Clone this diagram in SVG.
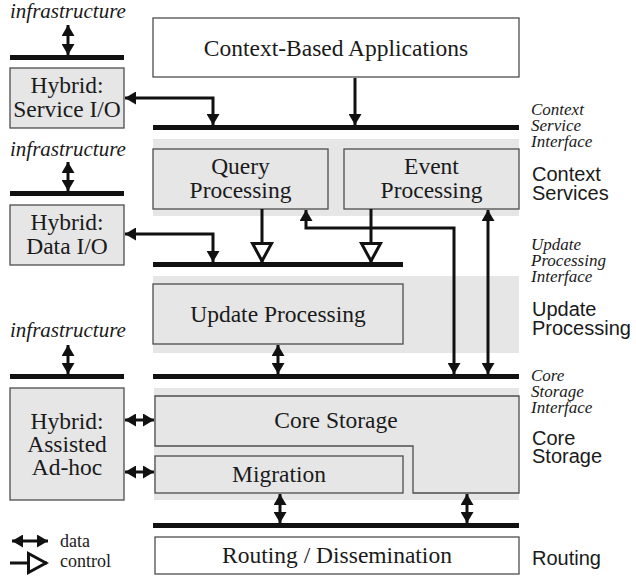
<svg xmlns="http://www.w3.org/2000/svg" width="636" height="577" viewBox="0 0 636 577">
  <style>
    .box { fill: #e6e6e6; stroke: #4d4d4d; stroke-width: 1.3; }
    .wbox { fill: #ffffff; stroke: #4d4d4d; stroke-width: 1.3; }
    .band { fill: #e6e6e6; }
    .bar { fill: #111111; }
    .lbl { font-family: "Liberation Serif", "Times New Roman", serif; font-size: 23.5px; fill: #1a1a1a; text-anchor: middle; }
    .ital { font-family: "Liberation Serif", "Times New Roman", serif; font-size: 17px; font-style: italic; fill: #1a1a1a; }
    .infra { font-family: "Liberation Serif", "Times New Roman", serif; font-size: 21px; font-style: italic; fill: #1a1a1a; }
    .layer { font-family: "Liberation Sans", Arial, sans-serif; font-size: 20px; fill: #1a1a1a; }
    .leg { font-family: "Liberation Serif", "Times New Roman", serif; font-size: 18px; fill: #1a1a1a; }
    .data { fill: none; stroke: #111111; stroke-width: 3; marker-start: url(#ah); marker-end: url(#ah); }
    .one { fill: none; stroke: #111111; stroke-width: 3; marker-end: url(#ah); }
    .ctl { fill: none; stroke: #111111; stroke-width: 3; marker-end: url(#tri); }
  </style>
  <defs>
    <!-- filled head for data flow -->
    <marker id="ah" viewBox="0 0 11 13" refX="11" refY="6.5" markerWidth="11" markerHeight="13" markerUnits="userSpaceOnUse" orient="auto-start-reverse">
      <path d="M0,0 L11,6.5 L0,13 z" fill="#111111"/>
    </marker>
    <!-- hollow head for control flow -->
    <marker id="tri" viewBox="-2 -2 24 26" refX="20" refY="11" markerWidth="24" markerHeight="26" markerUnits="userSpaceOnUse" orient="auto">
      <path d="M1.5,1.5 L19,11 L1.5,20.5 z" fill="#ffffff" stroke="#111111" stroke-width="3" stroke-linejoin="miter"/>
    </marker>
  </defs>

  <!-- layer backgrounds -->
  <g id="bands">
    <rect class="band" x="153" y="139" width="366" height="77"/>
    <rect class="band" x="153" y="276" width="366" height="77"/>
    <rect class="band" x="154" y="388" width="365" height="112"/>
  </g>

  <!-- interface bars -->
  <g id="bars">
    <rect class="bar" x="153" y="125" width="366" height="5"/>
    <rect class="bar" x="10" y="55" width="114" height="5"/>
    <rect class="bar" x="10" y="191" width="114" height="5"/>
    <rect class="bar" x="153" y="262" width="250" height="5"/>
    <rect class="bar" x="153" y="374" width="366" height="5"/>
    <rect class="bar" x="10" y="374" width="114" height="5"/>
    <rect class="bar" x="153" y="523" width="366" height="5"/>
  </g>

  <g id="apps">
    <rect class="wbox" x="153" y="18" width="366" height="59"/>
    <text class="lbl" x="336" y="56">Context-Based Applications</text>
  </g>

  <g id="service-io">
    <rect class="box" x="10" y="68" width="114" height="60"/>
    <text class="lbl" x="67" y="93">Hybrid:<tspan x="67" dy="24">Service I/O</tspan></text>
  </g>

  <g id="query">
    <rect class="box" x="153" y="149" width="175" height="60"/>
    <text class="lbl" x="240.5" y="174">Query<tspan x="240.5" dy="24">Processing</tspan></text>
  </g>

  <g id="event">
    <rect class="box" x="344" y="149" width="175" height="60"/>
    <text class="lbl" x="431.5" y="174">Event<tspan x="431.5" dy="24">Processing</tspan></text>
  </g>

  <g id="data-io">
    <rect class="box" x="10" y="205" width="114" height="60"/>
    <text class="lbl" x="67" y="230">Hybrid:<tspan x="67" dy="24">Data I/O</tspan></text>
  </g>

  <g id="update">
    <rect class="box" x="153" y="284" width="250" height="60"/>
    <text class="lbl" x="278" y="322">Update Processing</text>
  </g>

  <g id="assisted">
    <rect class="box" x="10" y="388" width="114" height="112"/>
    <text class="lbl" x="67" y="429">Hybrid:<tspan x="67" dy="23">Assisted</tspan><tspan x="67" dy="23">Ad-hoc</tspan></text>
  </g>

  <g id="core">
    <path class="box" d="M155,396 H519 V493 H413 V446 H155 Z"/>
    <text class="lbl" x="336" y="428">Core Storage</text>
  </g>

  <g id="migration">
    <rect class="box" x="155" y="456" width="248" height="37"/>
    <text class="lbl" x="279" y="482">Migration</text>
  </g>

  <g id="routing">
    <rect class="wbox" x="155" y="537" width="364" height="37"/>
    <text class="lbl" x="337" y="563">Routing / Dissemination</text>
  </g>

  <!-- infrastructure links -->
  <g id="infrastructure">
    <text class="infra" x="10" y="18">infrastructure</text>
    <text class="infra" x="10" y="156">infrastructure</text>
    <text class="infra" x="10" y="337">infrastructure</text>
  </g>

  <!-- side labels: interfaces (italic) and layers (sans) -->
  <g id="labels">
    <text class="ital" x="531" y="115">Context<tspan x="531" dy="16">Service</tspan><tspan x="531" dy="16">Interface</tspan></text>
    <text class="layer" x="532" y="181">Context<tspan x="532" dy="18.5">Services</tspan></text>
    <text class="ital" x="531" y="250">Update<tspan x="531" dy="16">Processing</tspan><tspan x="531" dy="16">Interface</tspan></text>
    <text class="layer" x="532" y="316">Update<tspan x="532" dy="18.5">Processing</tspan></text>
    <text class="ital" x="531" y="381">Core<tspan x="531" dy="16">Storage</tspan><tspan x="531" dy="16">Interface</tspan></text>
    <text class="layer" x="532" y="445">Core<tspan x="532" dy="18">Storage</tspan></text>
    <text class="layer" x="532" y="565">Routing</text>
  </g>

  <g id="connectors">
    <path class="one" d="M355,78 V125"/>
    <path class="data" d="M125,98 H213 V125"/>
    <path class="data" d="M68,25 V55"/>
    <path class="data" d="M68,162 V191"/>
    <path class="data" d="M68,345 V374"/>
    <path class="ctl" d="M262,209 V262"/>
    <path class="ctl" d="M371,209 V262"/>
    <path class="data" d="M125,234 H213 V262"/>
    <path class="data" d="M306,210 V228 H454 V374"/>
    <path class="data" d="M488,210 V374"/>
    <path class="data" d="M278,345 V374"/>
    <path class="data" d="M125,420 H154"/>
    <path class="data" d="M125,472 H154"/>
    <path class="data" d="M280,494 V523"/>
    <path class="data" d="M467,494 V523"/>
  </g>

  <!-- legend -->
  <g id="legend">
    <path class="data" d="M12,541 H48"/>
    <text class="leg" x="60" y="547">data</text>
    <path class="ctl" d="M10,563 H47"/>
    <text class="leg" x="60" y="567">control</text>
  </g>
</svg>
